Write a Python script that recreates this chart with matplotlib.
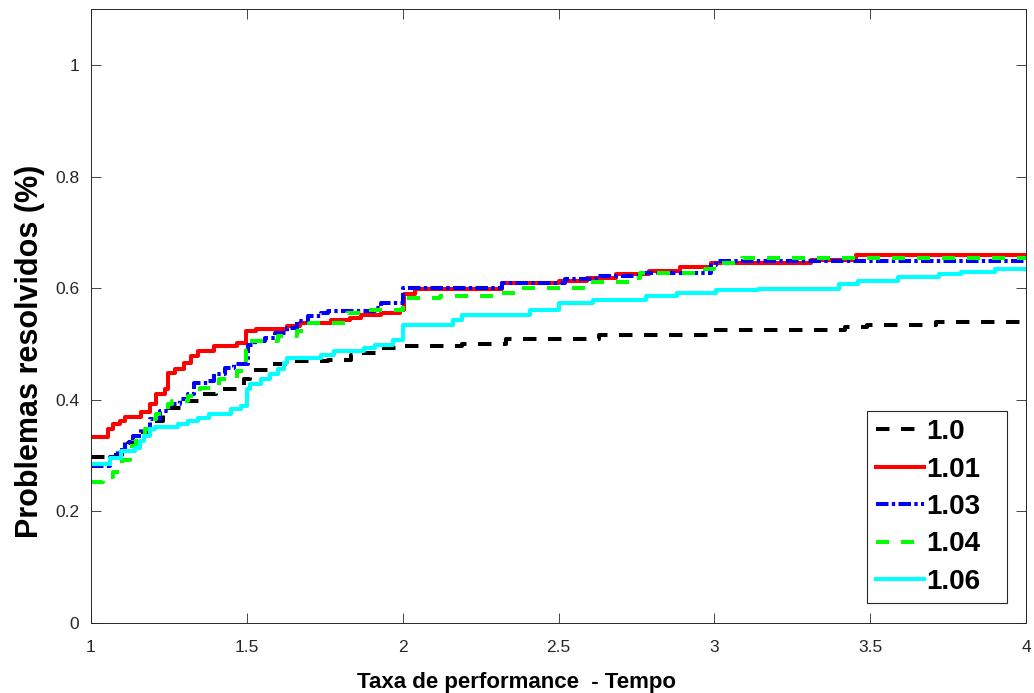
import matplotlib
matplotlib.use("Agg")
import matplotlib.pyplot as plt

plt.rcParams['font.family'] = ['Liberation Sans', 'DejaVu Sans']
plt.rcParams['lines.scale_dashes'] = False

labels = ["1.0", "1.01", "1.03", "1.04", "1.06"]

x_10 = [1.00, 1.07, 1.10, 1.12, 1.15, 1.19, 1.20, 1.23, 1.25, 1.30, 1.36, 1.40, 1.49, 1.51, 1.57,
        1.65, 1.76, 1.834, 1.87, 1.94, 2.00, 2.19, 2.33, 2.63, 2.99, 3.42, 3.49, 3.71, 4.00]
y_10 = [0.297, 0.302, 0.313, 0.323, 0.342, 0.356, 0.362, 0.377, 0.386, 0.398, 0.410, 0.419, 0.437, 0.4545, 0.4635,
        0.4695, 0.472, 0.481, 0.485, 0.493, 0.496, 0.501, 0.510, 0.516, 0.526, 0.531, 0.535, 0.539, 0.539]

x_101 = [1.00, 1.054, 1.07, 1.092, 1.11, 1.16, 1.19, 1.21, 1.236, 1.247, 1.27, 1.30, 1.32, 1.343, 1.396,
         1.47, 1.497, 1.53, 1.63, 1.67, 1.77, 1.83, 1.865, 1.93, 1.99, 2.005, 2.04, 2.32, 2.50, 2.59,
         2.685, 2.79, 2.89, 2.99, 3.31, 3.455, 4.00]
y_101 = [0.333, 0.347, 0.357, 0.362, 0.369, 0.378, 0.392, 0.410, 0.419, 0.449, 0.455, 0.467, 0.478, 0.487, 0.496,
         0.502, 0.523, 0.528, 0.532, 0.538, 0.543, 0.547, 0.552, 0.556, 0.562, 0.589, 0.599, 0.610, 0.613, 0.619,
         0.625, 0.631, 0.639, 0.646, 0.651, 0.659, 0.659]

x_103 = [1.00, 1.06, 1.087, 1.11, 1.135, 1.16, 1.19, 1.22, 1.25, 1.284, 1.31, 1.332, 1.375, 1.396, 1.43,
         1.46, 1.503, 1.525, 1.557, 1.59, 1.63, 1.66, 1.695, 1.737, 1.76, 1.91, 1.93, 2.00, 2.32, 2.52,
         2.62, 2.76, 2.99, 3.005, 4.00]
y_103 = [0.282, 0.297, 0.311, 0.324, 0.335, 0.347, 0.365, 0.380, 0.392, 0.401, 0.410, 0.431, 0.434, 0.446, 0.458,
         0.4635, 0.499, 0.505, 0.511, 0.520, 0.529, 0.541, 0.550, 0.556, 0.559, 0.565, 0.574, 0.600, 0.610, 0.616,
         0.6215, 0.628, 0.6425, 0.649, 0.649]

x_104 = [1.00, 1.04, 1.07, 1.10, 1.124, 1.145, 1.172, 1.20, 1.21, 1.247, 1.26, 1.31, 1.35, 1.41, 1.47,
         1.498, 1.505, 1.60, 1.66, 1.70, 1.82, 1.89, 2.00, 2.12, 2.31, 2.38, 2.61, 2.73, 2.76, 2.97,
         3.00, 3.09, 4.00]
y_104 = [0.252, 0.262, 0.270, 0.293, 0.317, 0.335, 0.347, 0.365, 0.374, 0.392, 0.398, 0.407, 0.422, 0.437, 0.4515,
         0.490, 0.505, 0.514, 0.523, 0.538, 0.556, 0.562, 0.583, 0.587, 0.592, 0.601, 0.611, 0.619, 0.628, 0.634,
         0.645, 0.654, 0.654]

x_106 = [1.00, 1.06, 1.097, 1.14, 1.156, 1.17, 1.188, 1.204, 1.28, 1.31, 1.343, 1.38, 1.45, 1.48, 1.50,
         1.51, 1.545, 1.573, 1.60, 1.62, 1.63, 1.738, 1.78, 1.877, 1.91, 1.97, 2.00, 2.16, 2.19, 2.41,
         2.50, 2.61, 2.78, 2.88, 3.005, 3.14, 3.40, 3.46, 3.59, 3.72, 3.79, 3.90, 4.00]
y_106 = [0.2846, 0.2965, 0.308, 0.314, 0.326, 0.335, 0.347, 0.352, 0.356, 0.362, 0.368, 0.374, 0.383, 0.389, 0.419,
         0.428, 0.437, 0.446, 0.455, 0.467, 0.4755, 0.481, 0.487, 0.493, 0.499, 0.508, 0.535, 0.544, 0.553, 0.562,
         0.574, 0.580, 0.586, 0.592, 0.5965, 0.599, 0.607, 0.613, 0.620, 0.625, 0.629, 0.634, 0.634]

xticks = [1, 1.5, 2, 2.5, 3, 3.5, 4]
xticklabels = ["1", "1.5", "2", "2.5", "3", "3.5", "4"]
yticks = [0, 0.2, 0.4, 0.6, 0.8, 1]
yticklabels = ["0", "0.2", "0.4", "0.6", "0.8", "1"]

series = [(x_10, y_10), (x_101, y_101), (x_103, y_103), (x_104, y_104), (x_106, y_106)]
colors = ["#000000", "#ff0000", "#0000ff", "#00ff00", "#00ffff"]
styles = [(0, (9.7, 8.3)), "-", (0, (9, 2.4, 2.4, 2.4)), (0, (9.4, 8.6)), "-"]

fig = plt.figure(figsize=(10.34, 6.93), dpi=100)
ax = fig.add_axes([0.0880, 0.1010, 0.9043, 0.8853])

for (xs, ys), c, ls, lab in zip(series, colors, styles, labels):
    ax.step(xs, ys, where="post", color=c, linestyle=ls, linewidth=2.9, label=lab)

ax.set_xlim(1, 4)
ax.set_ylim(0, 1.1)
ax.set_xticks(xticks)
ax.set_xticklabels(xticklabels)
ax.set_yticks(yticks)
ax.set_yticklabels(yticklabels)
ax.tick_params(direction="in", length=7, width=0.6, top=True, right=True,
               labelsize=12.5, colors="#262626")
ax.tick_params(axis="x", pad=12)
ax.tick_params(axis="y", pad=8.5)
for sp in ax.spines.values():
    sp.set_color("#262626")
    sp.set_linewidth(0.7)

ax.set_xlabel("Taxa de performance  - Tempo", fontsize=16, fontweight="bold")
ax.set_ylabel("Problemas resolvidos (%)", fontsize=22, fontweight="bold")
ax.xaxis.set_label_coords(0.455, -0.0805)
ax.yaxis.set_label_coords(-0.0492, 0.4425)

leg = ax.legend(loc="lower left", mode="expand", prop={"weight": "bold", "size": 20},
                handlelength=1.73, labelspacing=0.41, handletextpad=0.1,
                borderpad=0.3, borderaxespad=0.0, fancybox=False, framealpha=1,
                bbox_to_anchor=(0.8303, 0.0326, 0.1491, 0.31))
leg.get_frame().set_edgecolor("#262626")
leg.get_frame().set_linewidth(0.8)

fig.savefig("out.png", dpi=100)
